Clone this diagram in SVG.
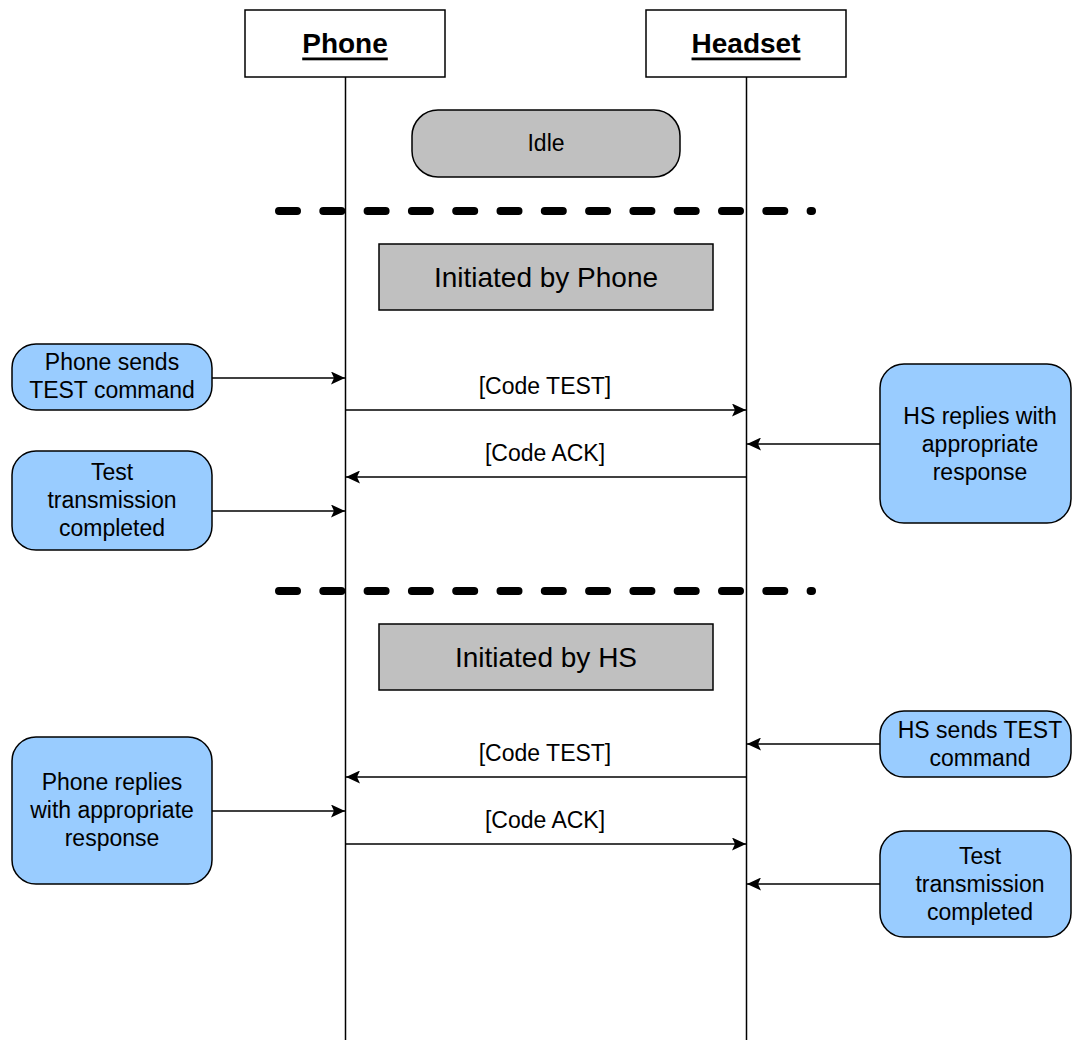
<svg xmlns="http://www.w3.org/2000/svg" width="1072" height="1040" viewBox="0 0 1072 1040">
  <style>
    text { font-family: "Liberation Sans", Arial, sans-serif; fill: #000; text-anchor: middle; dominant-baseline: central; }
    .actor { fill: #fff; stroke: #000; stroke-width: 1.5; }
    .actor-label { font-size: 28px; font-weight: bold; text-decoration: underline; }
    .lifeline { stroke: #000; stroke-width: 1.5; fill: none; }
    .state { fill: #c0c0c0; stroke: #000; stroke-width: 1.5; }
    .note { fill: #99ccff; stroke: #000; stroke-width: 1.5; }
    .note-text { font-size: 23px; }
    .phase-text { font-size: 28px; }
    .msg { stroke: #000; stroke-width: 1.5; fill: none; marker-end: url(#arrow); }
    .msg-label { font-size: 23px; }
    .divider { stroke: #000; stroke-width: 8; stroke-linecap: round; stroke-dasharray: 18 26.3; fill: none; }
  </style>
  <defs>
    <marker id="arrow" viewBox="0 0 14 13" refX="14" refY="6.5" markerWidth="14" markerHeight="13" markerUnits="userSpaceOnUse" orient="auto">
      <path d="M0,0 L14,6.5 L0,13 L3,6.5 Z" fill="#000"/>
    </marker>
  </defs>

  <rect width="1072" height="1040" fill="#fff"/>

  <!-- actors and lifelines -->
  <g id="phone">
    <line class="lifeline" x1="345.5" y1="77" x2="345.5" y2="1040"/>
    <rect class="actor" x="245" y="10" width="200" height="67"/>
    <text class="actor-label" x="345" y="43">Phone</text>
  </g>
  <g id="headset">
    <line class="lifeline" x1="746.5" y1="77" x2="746.5" y2="1040"/>
    <rect class="actor" x="646" y="10" width="200" height="67"/>
    <text class="actor-label" x="746" y="43">Headset</text>
  </g>

  <!-- states and phase dividers -->
  <g id="idle">
    <rect class="state" x="412" y="110" width="268" height="67" rx="26" ry="26"/>
    <text class="note-text" x="546" y="143">Idle</text>
  </g>
  <g id="divider-1">
    <line class="divider" x1="279" y1="211" x2="812" y2="211"/>
  </g>
  <g id="phase-phone">
    <rect class="state" x="379" y="244" width="334" height="66"/>
    <text class="phase-text" x="546" y="277">Initiated by Phone</text>
  </g>
  <g id="divider-2">
    <line class="divider" x1="279" y1="591" x2="812" y2="591"/>
  </g>
  <g id="phase-hs">
    <rect class="state" x="379" y="624" width="334" height="66"/>
    <text class="phase-text" x="546" y="657">Initiated by HS</text>
  </g>

  <!-- notes -->
  <g id="note-phone-sends">
    <rect class="note" x="12" y="344" width="200" height="66" rx="24" ry="24"/>
    <text class="note-text" x="112" y="362">Phone sends</text>
    <text class="note-text" x="112" y="390">TEST command</text>
  </g>
  <g id="note-phone-completed">
    <rect class="note" x="12" y="451" width="200" height="99" rx="24" ry="24"/>
    <text class="note-text" x="112" y="472">Test</text>
    <text class="note-text" x="112" y="500">transmission</text>
    <text class="note-text" x="112" y="528">completed</text>
  </g>
  <g id="note-hs-replies">
    <rect class="note" x="880" y="364" width="191" height="159" rx="24" ry="24"/>
    <text class="note-text" x="980" y="416">HS replies with</text>
    <text class="note-text" x="980" y="444">appropriate</text>
    <text class="note-text" x="980" y="472">response</text>
  </g>
  <g id="note-hs-sends">
    <rect class="note" x="880" y="711" width="191" height="66" rx="24" ry="24"/>
    <text class="note-text" x="980" y="730">HS sends TEST</text>
    <text class="note-text" x="980" y="758">command</text>
  </g>
  <g id="note-phone-replies">
    <rect class="note" x="12" y="737" width="200" height="147" rx="24" ry="24"/>
    <text class="note-text" x="112" y="782">Phone replies</text>
    <text class="note-text" x="112" y="810">with appropriate</text>
    <text class="note-text" x="112" y="838">response</text>
  </g>
  <g id="note-hs-completed">
    <rect class="note" x="880" y="831" width="191" height="106" rx="24" ry="24"/>
    <text class="note-text" x="980" y="856">Test</text>
    <text class="note-text" x="980" y="884">transmission</text>
    <text class="note-text" x="980" y="912">completed</text>
  </g>

  <!-- connectors -->
  <g id="connectors">
    <line class="msg" x1="212" y1="378" x2="345" y2="378"/>
    <line class="msg" x1="346" y1="410" x2="746" y2="410"/>
    <line class="msg" x1="880" y1="444" x2="747" y2="444"/>
    <line class="msg" x1="746" y1="477" x2="346" y2="477"/>
    <line class="msg" x1="212" y1="511" x2="345" y2="511"/>
    <line class="msg" x1="880" y1="744" x2="747" y2="744"/>
    <line class="msg" x1="746" y1="777" x2="346" y2="777"/>
    <line class="msg" x1="212" y1="811" x2="345" y2="811"/>
    <line class="msg" x1="346" y1="844" x2="746" y2="844"/>
    <line class="msg" x1="880" y1="884" x2="747" y2="884"/>
    <text class="msg-label" x="545" y="386">[Code TEST]</text>
    <text class="msg-label" x="545" y="453">[Code ACK]</text>
    <text class="msg-label" x="545" y="753">[Code TEST]</text>
    <text class="msg-label" x="545" y="820">[Code ACK]</text>
  </g>
</svg>
